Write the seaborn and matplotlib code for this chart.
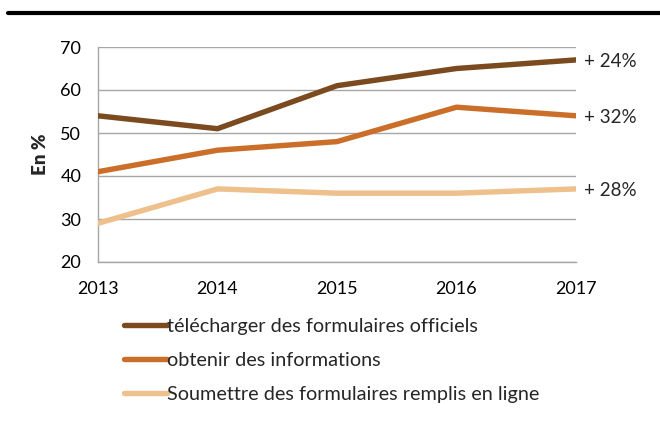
import matplotlib
matplotlib.use("Agg")
import matplotlib.pyplot as plt
import seaborn as sns
import pandas as pd
from matplotlib.lines import Line2D

years = [2013, 2014, 2015, 2016, 2017]
series_names = ["télécharger des formulaires officiels",
                "obtenir des informations",
                "Soumettre des formulaires remplis en ligne"]
telecharger = [54, 51, 61, 65, 67]
obtenir = [41, 46, 48, 56, 54]
soumettre = [29, 37, 36, 36, 37]
growth_labels = ["+ 24%", "+ 32%", "+ 28%"]
colors = ["#7B4A1E", "#CB6E2A", "#EDC08C"]

rows = []
for name, vals in zip(series_names, [telecharger, obtenir, soumettre]):
    for y, v in zip(years, vals):
        rows.append({"Année": y, "Valeur": v, "Série": name})
df = pd.DataFrame(rows)

sns.set_style("white")
plt.rcParams['font.family'] = ['Lato', 'DejaVu Sans']

fig = plt.figure(figsize=(6.6, 4.29), dpi=100)
ax = fig.add_axes([98/660, 1-262/429, (576-98)/660, (262-47)/429])

sns.lineplot(data=df, x="Année", y="Valeur", hue="Série", palette=colors,
             linewidth=3.9, ax=ax, legend=False, zorder=3)

ax.set_xlim(2013, 2017)
ax.set_ylim(20, 70)
ax.set_xticks(years)
ax.set_yticks([20, 30, 40, 50, 60, 70])
ax.yaxis.grid(True, color="#A6A6A6", linewidth=1)
ax.set_axisbelow(True)
for s in ["top", "right"]:
    ax.spines[s].set_visible(False)
for s in ["left", "bottom"]:
    ax.spines[s].set_color("#A6A6A6")
    ax.spines[s].set_linewidth(1)
ax.tick_params(axis="both", which="both", labelsize=13, color="#A6A6A6",
               length=4, width=1, direction="out", labelcolor="black")
ax.tick_params(axis="y", pad=8)
ax.tick_params(axis="x", pad=10)
ax.set_xlabel("")
ax.set_ylabel("En %", fontsize=13.5, fontweight="heavy", labelpad=8)

for vals, lab in zip([telecharger, obtenir, soumettre], growth_labels):
    ax.annotate(lab, xy=(years[-1], vals[-1]), xytext=(6, -1),
                textcoords="offset points", va="center", ha="left",
                fontsize=13.5, annotation_clip=False)

# top black bar
fig.add_artist(Line2D([8/660, 1], [1-12.5/429, 1-12.5/429], color="black",
                      linewidth=3, transform=fig.transFigure))

handles = [Line2D([0], [0], color=c, linewidth=3.9, solid_capstyle="round") for c in colors]
fig.legend(handles, series_names, loc="upper left",
           bbox_to_anchor=(124/660, 1-318/429), frameon=False, fontsize=14.3,
           handlelength=2.15, handletextpad=0.0, labelspacing=0.86,
           borderaxespad=0, borderpad=0)

fig.savefig("out.png", dpi=100)
